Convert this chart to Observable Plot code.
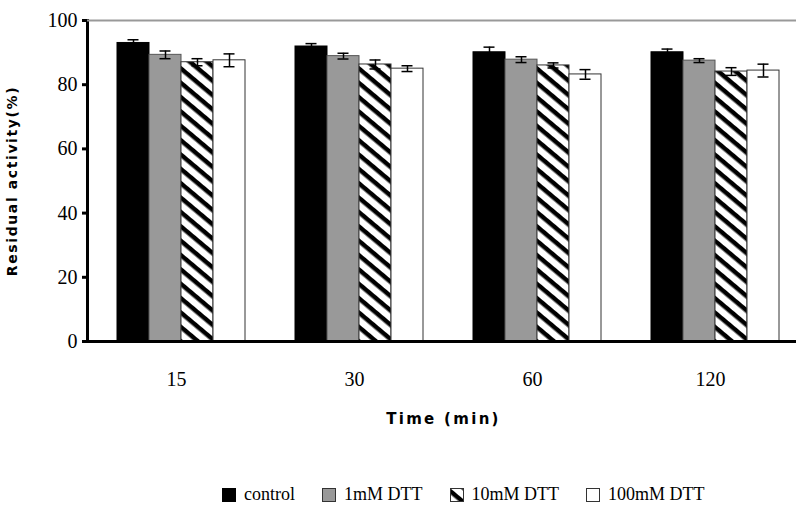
<!DOCTYPE html>
<html>
<head>
<meta charset="utf-8">
<script src="https://cdn.jsdelivr.net/npm/d3@7"></script>
<script src="https://cdn.jsdelivr.net/npm/@observablehq/plot@0.6"></script>
<style>
  body { margin: 0; background: #fff; }
  #chart { width: 796px; height: 508px; overflow: hidden; background: #fff; }
  #chart svg { display: block; }
  #chart g[aria-label="y-axis tick"] { stroke-width: 3px; }
  #chart g[aria-label="y-axis label"] text {
    font-family: "DejaVu Sans", sans-serif; font-weight: bold; font-size: 14px; letter-spacing: 1.6px;
  }
  #chart g[aria-label="fx-axis label"] text {
    font-family: "DejaVu Sans", sans-serif; font-weight: bold; font-size: 15px; letter-spacing: 2.3px;
  }
  .legend { display: flex; align-items: center; height: 48px; box-sizing: border-box;
    padding-left: 222px; padding-top: 21px; font-family: "Liberation Serif", serif; font-size: 18px; color: #000; }
  .legend .item { display: flex; align-items: center; margin-right: 27px; }
  .legend svg { margin-right: 8px; }
</style>
</head>
<body>
<div id="chart"></div>
<script>
// categories
const times = ["15", "30", "60", "120"];
const seriesNames = ["control", "1mM DTT", "10mM DTT", "100mM DTT"];
// series values (Residual activity %)
const control = [93.0, 91.9, 90.1, 90.1];
const dtt1 = [89.3, 88.9, 87.8, 87.5];
const dtt10 = [87.0, 86.3, 86.0, 84.1];
const dtt100 = [87.6, 85.0, 83.2, 84.4];
// error (± SD)
const controlErr = [1.0, 0.9, 1.6, 1.0];
const dtt1Err = [1.2, 0.9, 0.9, 0.6];
const dtt10Err = [1.1, 1.4, 0.8, 1.2];
const dtt100Err = [2.0, 0.9, 1.5, 2.0];
// tick labels
const yTicks = [0, 20, 40, 60, 80, 100];
// styles
const fills = ["#000000", "#999999", "url(#hatch)", "#ffffff"];
const strokes = ["#000000", "#555555", "#333333", "#333333"];

const valuesBySeries = [control, dtt1, dtt10, dtt100];
const errBySeries = [controlErr, dtt1Err, dtt10Err, dtt100Err];
const data = [];
seriesNames.forEach((s, i) => times.forEach((t, j) => data.push({
  time: t, series: s, value: valuesBySeries[i][j], err: errBySeries[i][j]
})));

const barMarks = seriesNames.map((s, i) => Plot.barY(data.filter(d => d.series === s), {
  fx: "time", x: "series", y: "value", fill: fills[i], stroke: strokes[i], strokeWidth: 1
}));

const plot = Plot.plot({
  width: 796,
  height: 460,
  marginTop: 20,
  marginBottom: 119,
  marginLeft: 87,
  marginRight: -3,
  style: { background: "white", fontFamily: "Liberation Serif, serif", fontSize: "20px", color: "#000" },
  fx: { domain: times, padding: 0, axis: "bottom", tickSize: 0, tickPadding: 30, label: "Time (min)", labelAnchor: "center", labelOffset: 82 },
  x: { domain: seriesNames, paddingInner: 0, paddingOuter: 0.738, align: 0.604, axis: null },
  y: { domain: [0, 100], ticks: yTicks, tickSize: 5, tickPadding: 5, tickFormat: d => String(d), label: "Residual activity(%)", labelAnchor: "center", labelOffset: 80, labelArrow: "none" },
  marks: [
    Plot.frame({ anchor: "left", facet: "super", stroke: "#000", strokeWidth: 3 }),
    Plot.ruleY([100], { stroke: "#999999", strokeWidth: 2 }),
    ...barMarks,
    Plot.ruleX(data, { fx: "time", x: "series", y1: d => d.value - d.err, y2: d => d.value + d.err, stroke: "#000", strokeWidth: 1.5 }),
    Plot.tickY(data, { fx: "time", x: "series", y: d => d.value + d.err, stroke: "#000", strokeWidth: 1.5, insetLeft: 10.5, insetRight: 10.5 }),
    Plot.tickY(data, { fx: "time", x: "series", y: d => d.value - d.err, stroke: "#000", strokeWidth: 1.5, insetLeft: 10.5, insetRight: 10.5 }),
    Plot.ruleY([0], { stroke: "#000", strokeWidth: 3 })
  ]
});

// hatch pattern
const defs = d3.select(plot).insert("defs", ":first-child");
const pat = defs.append("pattern").attr("id", "hatch").attr("patternUnits", "userSpaceOnUse")
  .attr("width", 11).attr("height", 11).attr("patternTransform", "rotate(40)");
pat.append("rect").attr("width", 11).attr("height", 11).attr("fill", "#fff");
pat.append("rect").attr("width", 11).attr("height", 4.5).attr("fill", "#000");

const chart = document.getElementById("chart");
chart.appendChild(plot);

// legend
const legend = d3.select(chart).append("div").attr("class", "legend");
seriesNames.forEach((s, i) => {
  const item = legend.append("div").attr("class", "item");
  const sw = item.append("svg").attr("width", 14).attr("height", 14);
  sw.append("rect").attr("x", 0.5).attr("y", 0.5).attr("width", 13).attr("height", 13)
    .attr("fill", fills[i]).attr("stroke", i === 0 ? "#000" : "#333");
  item.append("span").text(s);
});
</script>
</body>
</html>
